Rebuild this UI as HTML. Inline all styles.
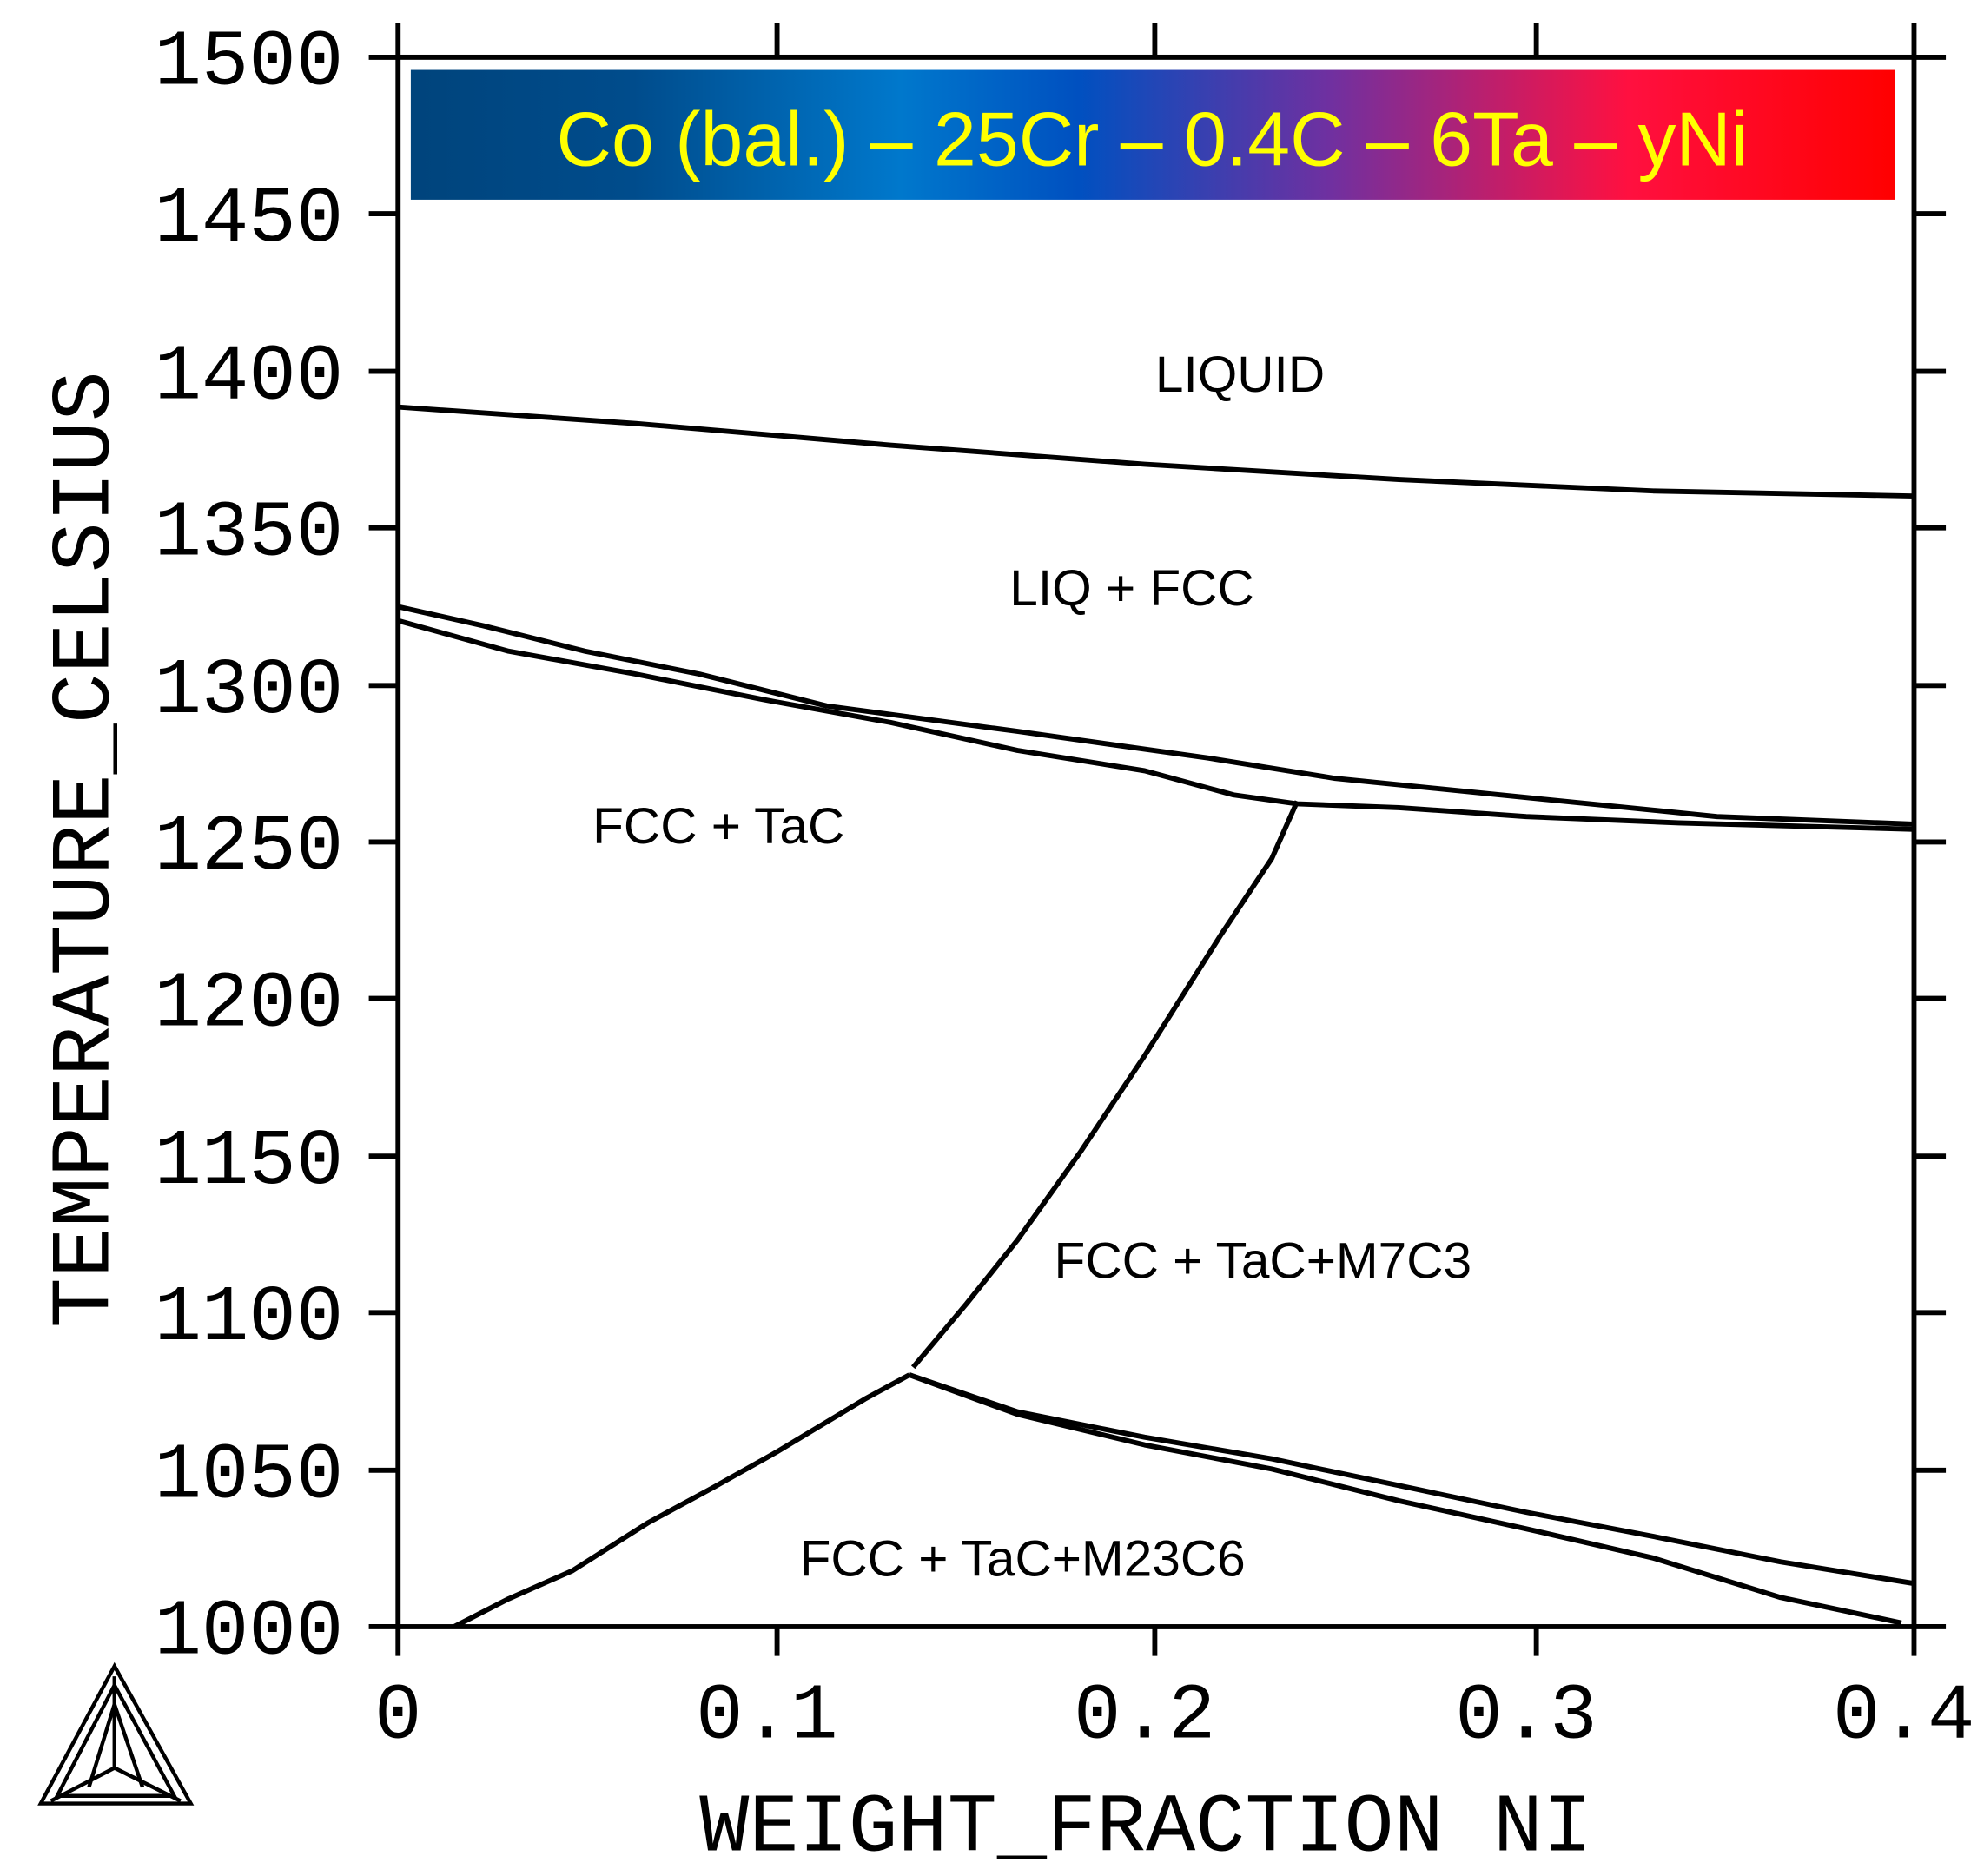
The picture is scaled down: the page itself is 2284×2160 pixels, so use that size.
<!DOCTYPE html>
<html><head><meta charset="utf-8"><style>html,body{margin:0;padding:0;background:#fff}svg{display:block}</style></head>
<body>
<svg width="2284" height="2160" viewBox="0 0 1560 1475" preserveAspectRatio="none" xmlns="http://www.w3.org/2000/svg">
<defs>
<linearGradient id="g" x1="0" x2="1" y1="0" y2="0">
<stop offset="0" stop-color="#00447c"/>
<stop offset="0.15" stop-color="#004c8c"/>
<stop offset="0.33" stop-color="#0078cc"/>
<stop offset="0.45" stop-color="#0050c0"/>
<stop offset="0.62" stop-color="#7030a0"/>
<stop offset="0.82" stop-color="#ff1040"/>
<stop offset="1" stop-color="#ff0000"/>
</linearGradient>
</defs>
<rect x="323" y="55" width="1167" height="102" fill="url(#g)"/>
<text x="906" y="130" text-anchor="middle" font-family="Liberation Sans, sans-serif" font-size="60" fill="#ffff00">Co (bal.) – 25Cr – 0.4C – 6Ta – yNi</text>
<g stroke="#000" stroke-width="4" fill="none">
<rect x="313" y="45" width="1192" height="1234"/>
<path d="M290 45H313M290 168H313M290 292H313M290 415H313M290 539H313M290 662H313M290 785H313M290 909H313M290 1032H313M290 1156H313M290 1279H313"/>
<path d="M1505 45H1530M1505 168H1530M1505 292H1530M1505 415H1530M1505 539H1530M1505 662H1530M1505 785H1530M1505 909H1530M1505 1032H1530M1505 1156H1530M1505 1279H1530"/>
<path d="M313 18V45M611 18V45M908 18V45M1208 18V45M1505 18V45M313 1279V1302M611 1279V1302M908 1279V1302M1208 1279V1302M1505 1279V1302"/>
</g>
<g stroke="#000" stroke-width="4" fill="none" stroke-linejoin="round">
<polyline points="313,320 500,333 700,350 900,365 1100,377 1300,386 1505,390"/>
<polyline points="313,477 380,492 460,512 550,530 650,555 800,575 950,596 1050,612 1200,627 1350,642 1505,648"/>
<polyline points="313,488 400,512 500,530 600,550 700,568 800,590 900,606 970,625 1020,632 1100,635 1200,642 1320,647 1505,652"/>
<polyline points="1020,630 1000,675 960,735 900,830 850,905 800,975 760,1025 718,1075"/>
<polyline points="357,1279 400,1257 450,1235 510,1197 560,1170 610,1142 680,1100 715,1081"/>
<polyline points="715,1081 800,1110 900,1130 1000,1147 1100,1168 1200,1189 1300,1208 1400,1228 1505,1245"/>
<polyline points="715,1081 800,1112 900,1136 1000,1155 1100,1180 1200,1202 1300,1225 1400,1256 1495,1276"/>
</g>
<g font-family="Liberation Sans, sans-serif" font-size="40" fill="#000" text-anchor="middle">
<text x="975" y="308">LIQUID</text>
<text x="890" y="476">LIQ + FCC</text>
<text x="565" y="663">FCC + TaC</text>
<text x="993" y="1005">FCC + TaC+M7C3</text>
<text x="804" y="1239">FCC + TaC+M23C6</text>
</g>
<g font-family="Liberation Mono, monospace" font-size="62" fill="#000" text-anchor="end">
<text x="270" y="66">1500</text><text x="270" y="189">1450</text><text x="270" y="313">1400</text>
<text x="270" y="436">1350</text><text x="270" y="560">1300</text><text x="270" y="683">1250</text>
<text x="270" y="806">1200</text><text x="270" y="930">1150</text><text x="270" y="1053">1100</text>
<text x="270" y="1177">1050</text><text x="270" y="1300">1000</text>
</g>
<g font-family="Liberation Mono, monospace" font-size="62" fill="#000" text-anchor="middle">
<text x="313" y="1366">0</text><text x="603" y="1366">0.1</text><text x="900" y="1366">0.2</text>
<text x="1200" y="1366">0.3</text><text x="1497" y="1366">0.4</text>
<text x="901" y="1455" font-size="65">WEIGHT_FRACTION NI</text>
<text transform="translate(85,668) rotate(-90)" font-size="66">TEMPERATURE_CELSIUS</text>
</g>
<g stroke="#000" stroke-width="3" fill="none">
<path d="M90 1310L32 1418H150Z"/>
<path d="M90 1325L45 1412H137Z"/>
<path d="M90 1318V1390L40 1416M90 1390L142 1416"/>
<path d="M90 1340L70 1405M90 1340L112 1405"/>
</g>
</svg>
</body></html>
